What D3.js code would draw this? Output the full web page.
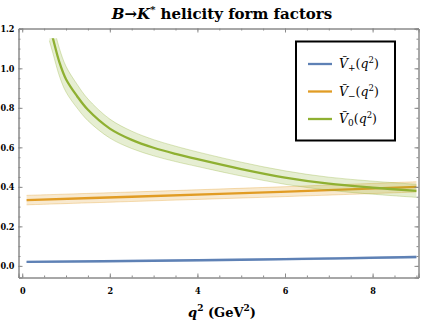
<!DOCTYPE html>
<html>
<head>
<meta charset="utf-8">
<script src="https://cdn.jsdelivr.net/npm/d3@7"></script>
<style>
  body { margin: 0; background: #fff; }
</style>
</head>
<body>
<svg width="427" height="322"></svg>
<script>
// values
let qPlus = [0.1, 3, 6, 9]
let vPlus = [0.02, 0.026, 0.034, 0.045]
let ePlus = [0.003, 0.003, 0.004, 0.004]

let qMinus = [0.1, 2.5, 5.9, 9]
let vMinus = [0.333, 0.35, 0.375, 0.40]
let eMinus = [0.024, 0.024, 0.025, 0.026]

let qZero = [0.62, 0.7, 0.85, 1.0, 1.25, 1.5, 2.0, 2.5, 3.0, 3.5, 4.0, 5.0, 6.0, 7.0, 8.0, 9.0]
let vZero = [1.22, 1.152, 1.03, 0.945, 0.86, 0.79, 0.695, 0.638, 0.598, 0.567, 0.54, 0.49, 0.447, 0.416, 0.396, 0.38]
let eZero = [0.08, 0.075, 0.07, 0.065, 0.06, 0.055, 0.048, 0.044, 0.041, 0.039, 0.037, 0.035, 0.034, 0.033, 0.033, 0.033]

let xMajor = [0, 2, 4, 6, 8]
let yMajor = [0, 0.2, 0.4, 0.6, 0.8, 1.0, 1.2]
let yClipTop = 1.152

let names = ["+", "\u2212", "0"]
let colors = ["#5E81B5", "#E19C24", "#8FB032"]

let serif = "DejaVu Serif"
let serifNarrow = "'DejaVu Serif Condensed', 'DejaVu Serif'"
let width = 427
let height = 322
let padLeft = 18.5, padRight = 418.5, padTop = 28.5, padBottom = 277.5

let svg = d3.select("svg")

let xScale = d3.scaleLinear().domain([-0.085, 9.048]).range([padLeft, padRight])
let yScale = d3.scaleLinear().domain([-0.0588, 1.2016]).range([padBottom, padTop])

// title
let title = svg.append("text")
  .attr("x", 222).attr("y", 19)
  .attr("text-anchor", "middle")
  .attr("font-family", serif)
  .attr("font-size", 15).attr("font-weight", "bold")
title.append("tspan").attr("font-style", "italic").text("B")
title.append("tspan").text("\u2192")
title.append("tspan").attr("font-style", "italic").text("K")
title.append("tspan").attr("dy", -6).attr("font-size", 10).text("*")
title.append("tspan").attr("dy", 6).text(" helicity form factors")

// clip
svg.append("clipPath").attr("id", "clip")
  .append("rect")
  .attr("x", padLeft).attr("width", padRight - padLeft)
  .attr("y", yScale(yClipTop)).attr("height", padBottom - yScale(yClipTop))

let plot = svg.append("g").attr("clip-path", "url(#clip)")

let series = [
  { q: qPlus, v: vPlus, e: ePlus },
  { q: qMinus, v: vMinus, e: eMinus },
  { q: qZero, v: vZero, e: eZero }
]

series.forEach((s, i) => {
  let pts = s.q.map((q, j) => [q, s.v[j], s.e[j]])
  let area = d3.area()
    .x(d => xScale(d[0]))
    .y0(d => yScale(d[1] - d[2]))
    .y1(d => yScale(d[1] + d[2]))
    .curve(d3.curveCatmullRom)
  plot.append("path").datum(pts)
    .attr("d", area)
    .attr("fill", colors[i]).attr("fill-opacity", 0.22)
  let edge = d3.line().curve(d3.curveCatmullRom).x(d => xScale(d[0]))
  plot.append("path").datum(pts)
    .attr("d", edge.y(d => yScale(d[1] + d[2])))
    .attr("fill", "none").attr("stroke", colors[i]).attr("stroke-opacity", 0.45).attr("stroke-width", 0.7)
  plot.append("path").datum(pts)
    .attr("d", edge.y(d => yScale(d[1] - d[2])))
    .attr("fill", "none").attr("stroke", colors[i]).attr("stroke-opacity", 0.45).attr("stroke-width", 0.7)
  plot.append("path").datum(pts)
    .attr("d", d3.line().curve(d3.curveCatmullRom).x(d => xScale(d[0])).y(d => yScale(d[1])))
    .attr("fill", "none").attr("stroke", colors[i]).attr("stroke-width", 2.3)
})

// frame and ticks
let frameColor = "#8a8a8a"
let xMinor = d3.range(0, 9.01, 0.5)
let yMinor = d3.range(0, 1.2001, 0.05)

let axB = d3.axisBottom(xScale).tickValues(xMinor).tickSize(-2).tickFormat("")
let axT = d3.axisTop(xScale).tickValues(xMinor).tickSize(-2).tickFormat("")
let axL = d3.axisLeft(yScale).tickValues(yMinor).tickSize(-2).tickFormat("")
let axR = d3.axisRight(yScale).tickValues(yMinor).tickSize(-2).tickFormat("")

svg.append("g").attr("transform", `translate(0,${padBottom})`).call(axB)
svg.append("g").attr("transform", `translate(0,${padTop})`).call(axT)
svg.append("g").attr("transform", `translate(${padLeft},0)`).call(axL)
svg.append("g").attr("transform", `translate(${padRight},0)`).call(axR)

let majB = d3.axisBottom(xScale).tickValues(xMajor).tickSize(-4).tickPadding(10).tickFormat(d3.format("d"))
let majT = d3.axisTop(xScale).tickValues(xMajor).tickSize(-4).tickFormat("")
let majL = d3.axisLeft(yScale).tickValues(yMajor).tickSize(-4).tickPadding(4).tickFormat(d3.format(".1f"))
let majR = d3.axisRight(yScale).tickValues(yMajor).tickSize(-4).tickFormat("")

svg.append("g").attr("class", "lab").attr("transform", `translate(0,${padBottom})`).call(majB)
svg.append("g").attr("transform", `translate(0,${padTop})`).call(majT)
svg.append("g").attr("class", "lab").attr("transform", `translate(${padLeft},0)`).call(majL)
svg.append("g").attr("transform", `translate(${padRight},0)`).call(majR)

svg.selectAll(".domain").attr("stroke", frameColor)
svg.selectAll(".tick line").attr("stroke", frameColor)
svg.selectAll("g").attr("font-family", serif)
svg.selectAll(".lab text")
  .attr("fill", "#000").attr("font-size", 9).attr("font-weight", "bold")
  .attr("font-family", serifNarrow)

// x-axis label
let xl = svg.append("text")
  .attr("x", 222).attr("y", 317)
  .attr("text-anchor", "middle")
  .attr("font-family", serif)
  .attr("font-size", 13).attr("font-weight", "bold")
xl.append("tspan").attr("font-style", "italic").text("q")
xl.append("tspan").attr("dy", -6).attr("font-size", 9).text("2")
xl.append("tspan").attr("dy", 6).text(" (GeV")
xl.append("tspan").attr("dy", -6).attr("font-size", 9).text("2")
xl.append("tspan").attr("dy", 6).text(")")

// legend
let lg = svg.append("g")
lg.append("rect")
  .attr("x", 296).attr("y", 41.5).attr("width", 99).attr("height", 99)
  .attr("fill", "#fff").attr("stroke", "#000").attr("stroke-width", 2)
names.forEach((n, i) => {
  let yy = 64 + i * 27.5
  lg.append("line")
    .attr("x1", 308).attr("x2", 332).attr("y1", yy).attr("y2", yy)
    .attr("stroke", colors[i]).attr("stroke-width", 2.3)
  let t = lg.append("text").attr("x", 339).attr("y", yy + 4)
    .attr("font-family", serif).attr("font-size", 12.5)
  t.append("tspan").attr("font-style", "italic").text("V\u0303")
  t.append("tspan").attr("dy", 3).attr("font-size", 9).text(n)
  t.append("tspan").attr("dy", -3).text("(")
  t.append("tspan").attr("font-style", "italic").text("q")
  t.append("tspan").attr("dy", -5).attr("font-size", 8.5).text("2")
  t.append("tspan").attr("dy", 5).text(")")
})
</script>
</body>
</html>
